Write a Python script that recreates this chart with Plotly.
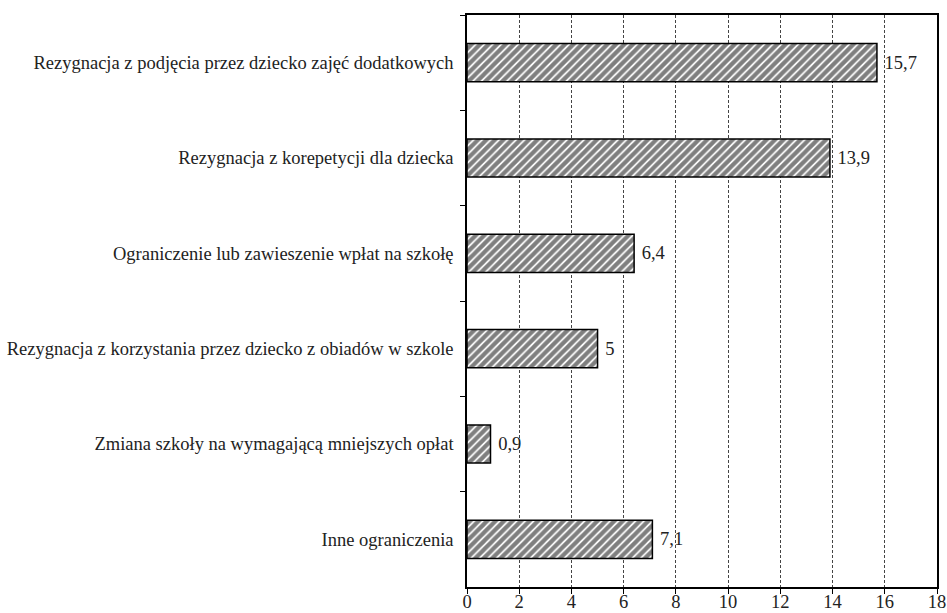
import plotly.graph_objects as go

categories = [
    "Rezygnacja z podjęcia przez dziecko zajęć dodatkowych",
    "Rezygnacja z korepetycji dla dziecka",
    "Ograniczenie lub zawieszenie wpłat na szkołę",
    "Rezygnacja z korzystania przez dziecko z obiadów w szkole",
    "Zmiana szkoły na wymagającą mniejszych opłat",
    "Inne ograniczenia",
]
values = [15.7, 13.9, 6.4, 5.0, 0.9, 7.1]
x_ticks = [0, 2, 4, 6, 8, 10, 12, 14, 16, 18]

font_family = "Liberation Serif, Times New Roman, serif"
font_size = 18.5
text_color = "#222"

fig = go.Figure(
    go.Bar(
        x=values,
        y=categories,
        orientation="h",
        width=0.4,
        marker=dict(
            color="white",
            line=dict(color="black", width=1.5),
            pattern=dict(shape="/", fgcolor="black", bgcolor="white",
                         size=6, solidity=0.7, fillmode="overlay"),
        ),
        text=[" " + f"{v:g}".replace(".", ",") for v in values],
        textposition="outside",
        textfont=dict(family=font_family, size=font_size, color=text_color),
        cliponaxis=False,
        hoverinfo="skip",
    )
)

fig.update_layout(
    width=947,
    height=613,
    margin=dict(l=467, r=10, t=15, b=26),
    paper_bgcolor="white",
    plot_bgcolor="white",
    showlegend=False,
    font=dict(family=font_family, size=font_size, color=text_color),
    bargap=0.6,
)

fig.update_xaxes(
    range=[0, 18],
    tickvals=x_ticks,
    ticktext=[str(t) for t in x_ticks],
    ticks="outside",
    ticklen=5,
    tickcolor="black",
    showline=True,
    linecolor="black",
    linewidth=1.5,
    mirror=True,
    showgrid=True,
    gridcolor="#444",
    gridwidth=1,
    griddash="3px,2px",
    zeroline=False,
    automargin=False,
    ticklabelstandoff=-8,
    tickfont=dict(family=font_family, size=font_size, color=text_color),
)

fig.update_yaxes(
    categoryorder="array",
    categoryarray=categories,
    autorange="reversed",
    tickson="boundaries",
    ticks="outside",
    ticklen=5,
    tickcolor="black",
    showline=True,
    linecolor="black",
    linewidth=1.5,
    mirror=True,
    showgrid=False,
    automargin=False,
    ticklabelstandoff=8,
    tickfont=dict(family=font_family, size=font_size, color=text_color),
)

fig.write_html("out.html")
